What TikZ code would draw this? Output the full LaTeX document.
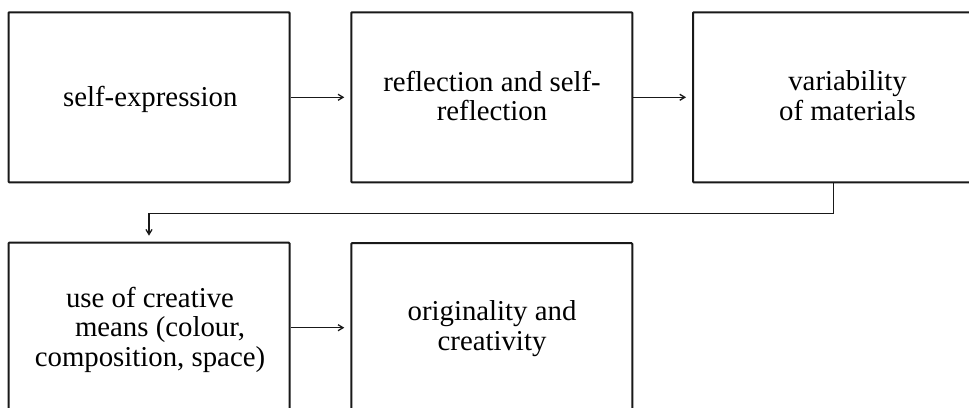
\documentclass[tikz,border=0pt]{standalone}
\usepackage{fontspec}
\setmainfont{Liberation Serif}
\usetikzlibrary{arrows.meta}
\tikzset{
  box/.style={draw=black!90, line width=2pt, rounded corners=0.8pt, minimum width=281pt, minimum height=170pt, inner sep=0pt},
  lbl/.style={font=\fontsize{28.8}{29.5}\selectfont, align=center, inner sep=0pt, anchor=base},
  conn/.style={line width=1.3pt, draw=black!90, -{Straight Barb[length=5pt,width=6pt,line width=1.3pt]}, shorten >=6pt}
}
\begin{document}
\begin{tikzpicture}[x=1pt,y=-1pt]
\useasboundingbox (0,0) rectangle (969,407);
\clip (0,0) rectangle (969,407);
\fill[white] (0,0) rectangle (969,407);
% boxes
\node[box] (b1) at (149,97.3) {};
\node[box] (b2) at (491.8,97.3) {};
\node[box] (b3) at (833.5,97.3) {};
\node[box] (b4) at (149,327.7) {};
\node[box] (b5) at (491.8,328.2) {};
% texts (base = last line baseline)
\node[lbl] (t1) at (150.3,106) {self-expression};
\node[lbl] (t2) at (492,120.7) {reflection and self-\\reflection};
\node[lbl] (t3) at (847.5,120.2) {variability\\of materials};
\node[lbl] (t4) at (150,366) {use of creative\\\hspace*{20pt}means (colour,\\composition, space)};
\node[lbl] (t5) at (492,350) {originality and\\creativity};
% connectors
\draw[conn] (b1.east) -- (b2.west);
\draw[conn] (b2.east) -- (b3.west);
\coordinate (k1) at (833.5,213.3);
\draw[conn] (b3.south) -- (k1) -| (b4.north);
\draw[conn] (b4.east) -- (b5.west |- b4.east);
\end{tikzpicture}
\end{document}
